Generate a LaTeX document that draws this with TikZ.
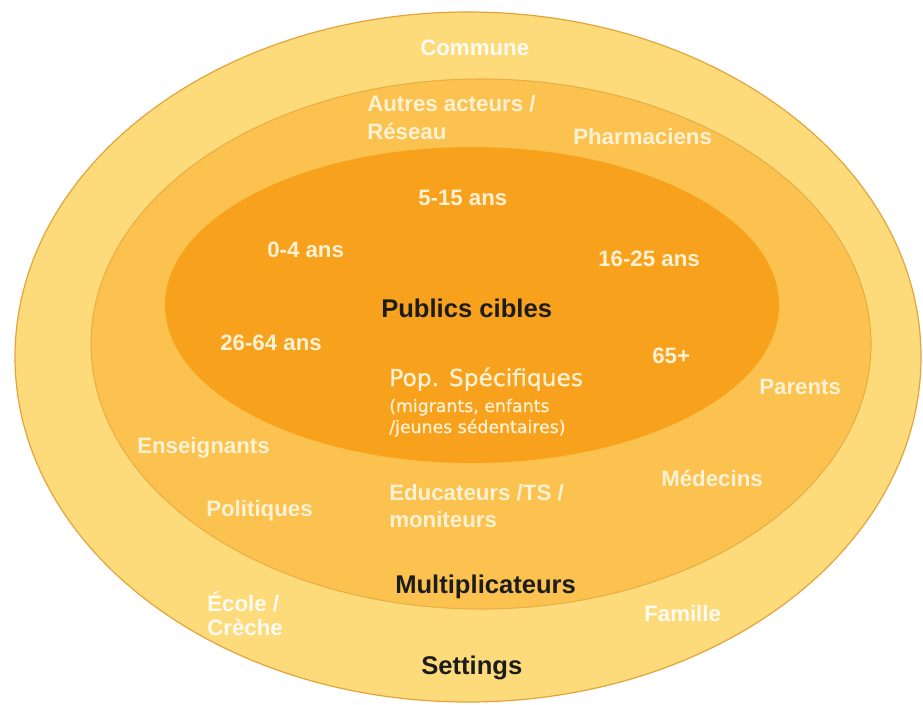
\documentclass[tikz,border=0pt]{standalone}
\usepackage{fontspec}
\setmainfont{Liberation Sans}
\newfontfamily\dvs[FakeBold=0.8]{DejaVu Sans}
\definecolor{outerc}{HTML}{FDDB7B}
\definecolor{midc}{HTML}{FBC24F}
\definecolor{innerc}{HTML}{F8A11C}
\definecolor{edgeo}{HTML}{E3A43A}
\definecolor{edgem}{HTML}{E9AE45}
\definecolor{txtc}{HTML}{FFF2D4}
\definecolor{txtw}{HTML}{FFFBF2}
\definecolor{keyc}{HTML}{1C1C1C}
\begin{document}
\begin{tikzpicture}[x=0.75pt,y=-0.75pt,
  lbl/.style={text=txtc,font=\fontsize{16.7}{20}\selectfont\bfseries,inner sep=0pt,anchor=base west},
  lblw/.style={lbl,text=txtw},
  key/.style={text=keyc,font=\fontsize{19.2}{22}\selectfont\bfseries,inner sep=0pt,anchor=base west},
  popbig/.style={text=txtc,font=\dvs\fontsize{17.5}{21}\selectfont,inner sep=0pt,anchor=base west},
  popsmall/.style={text=txtc,font=\dvs\fontsize{13}{16}\selectfont,inner sep=0pt,anchor=base west}]
\useasboundingbox (0,0) rectangle (923,704);
\fill[white] (0,0) rectangle (923,704);
% ellipses
\draw[fill=outerc,draw=edgeo,line width=0.9pt] (468,357) ellipse [x radius=453, y radius=345];
\draw[fill=midc,draw=edgem,line width=0.8pt] (481,344) ellipse [x radius=390, y radius=265];
\fill[innerc] (472,305) ellipse [x radius=307, y radius=158];
% settings ring
\node[lblw] (commune) at (420,55) {Commune};
\node[lblw] (ecole1) at (207,611) {École /};
\node[lblw] (ecole2) at (207,635) {Crèche};
\node[lblw] (famille) at (644,621) {Famille};
\node[key] (settings) at (421,674) {Settings};
% multiplicateurs ring
\node[lbl] (autres1) at (367,111) {Autres acteurs /};
\node[lbl] (autres2) at (367,139) {Réseau};
\node[lbl] (pharma) at (573,144) {Pharmaciens};
\node[lbl] (parents) at (759,394) {Parents};
\node[lbl] (enseign) at (137,453) {Enseignants};
\node[lbl] (medecins) at (661,486) {Médecins};
\node[lbl] (politiques) at (206,516) {Politiques};
\node[lbl] (educ1) at (389,500) {Educateurs /TS /};
\node[lbl] (educ2) at (389,527) {moniteurs};
\node[key] (multi) at (395,593) {Multiplicateurs};
% publics cibles
\node[lbl] (a515) at (418,205) {5-15 ans};
\node[lbl] (a04) at (267,257) {0-4 ans};
\node[lbl] (a1625) at (598,266) {16-25 ans};
\node[key] (publics) at (381,317) {Publics cibles};
\node[lbl] (a2664) at (220,350) {26-64 ans};
\node[lbl] (a65) at (652,363) {65+};
\node[popbig] (pop1) at (389,386) {Pop. Spécifiques};
\node[popsmall] (pop2) at (389,412) {(migrants, enfants};
\node[popsmall] (pop3) at (389,433) {/jeunes sédentaires)};
\end{tikzpicture}
\end{document}
